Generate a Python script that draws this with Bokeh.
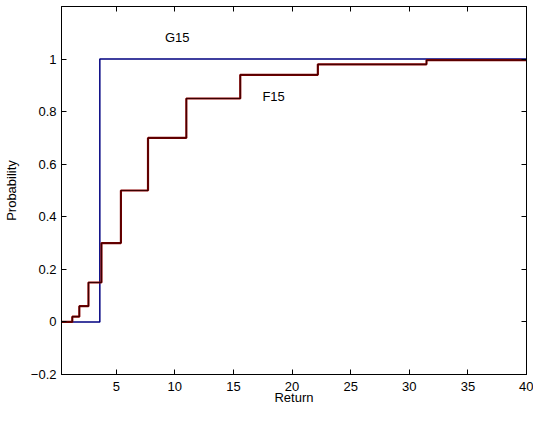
from bokeh.plotting import figure
from bokeh.models import Range1d, LinearAxis, FixedTicker, CustomJSTickFormatter, Label
from bokeh.embed import file_html
from bokeh.resources import INLINE

# ---- data ----
f15_x = [0.33, 1.25, 1.85, 2.63, 3.74, 5.40, 7.71, 10.98, 15.58, 22.2, 31.47, 40.0]
f15_y = [0.0, 0.02, 0.06, 0.15, 0.30, 0.50, 0.70, 0.85, 0.94, 0.98, 0.996, 0.996]
g15_x = [0.33, 3.6, 40.0]
g15_y = [0.0, 1.0, 1.0]
x_ticks = [5, 10, 15, 20, 25, 30, 35, 40]
y_ticks = [-0.2, 0.0, 0.2, 0.4, 0.6, 0.8, 1.0]
x_label = "Return"
y_label = "Probability"
x_lim = (0.33, 40.0)
y_lim = (-0.2, 1.2)

FONT = "Liberation Sans"
FS = "13px"

p = figure(width=533, height=407, output_backend="svg", toolbar_location=None,
           x_range=Range1d(*x_lim), y_range=Range1d(*y_lim),
           min_border_left=54, min_border_right=7, min_border_top=6, min_border_bottom=0)
p.xgrid.visible = False
p.ygrid.visible = False
p.outline_line_color = "black"
p.background_fill_color = "white"
p.border_fill_color = "white"

fmt = CustomJSTickFormatter(code="""
const v = Math.round(tick*10)/10;
return v.toString().replace('-', '\u2212');
""")
blank = CustomJSTickFormatter(code="return '';")

def base_style(ax):
    ax.axis_line_color = "black"
    ax.axis_line_width = 1
    ax.major_tick_line_color = "black"
    ax.major_tick_in = 5
    ax.major_tick_out = 0
    ax.minor_tick_in = 0
    ax.minor_tick_out = 0
    ax.minor_tick_line_color = None

for ax in (p.xaxis[0], p.yaxis[0]):
    base_style(ax)
    ax.major_label_text_font = FONT
    ax.major_label_text_font_size = FS
    ax.major_label_text_color = "black"
    ax.axis_label_text_font = FONT
    ax.axis_label_text_font_size = FS
    ax.axis_label_text_font_style = "normal"
    ax.axis_label_text_color = "black"
    ax.formatter = fmt

xa = p.xaxis[0]
ya = p.yaxis[0]
xa.ticker = FixedTicker(ticks=x_ticks)
ya.ticker = FixedTicker(ticks=y_ticks)
xa.axis_label = x_label
ya.axis_label = y_label
xa.major_label_standoff = 7
xa.axis_label_standoff = -4
ya.major_label_standoff = 5
ya.axis_label_standoff = 9

top = LinearAxis(ticker=FixedTicker(ticks=x_ticks), formatter=blank)
right = LinearAxis(ticker=FixedTicker(ticks=y_ticks), formatter=blank)
for ax in (top, right):
    base_style(ax)
    ax.major_label_standoff = 0
p.add_layout(top, "above")
p.add_layout(right, "right")

p.step(g15_x, g15_y, mode="after", line_color="#000080", line_width=1.5)
p.step(f15_x, f15_y, mode="after", line_color="#8B0000", line_width=2.2)
p.step(f15_x, f15_y, mode="after", line_color="black", line_width=0.7, line_alpha=0.85)

p.add_layout(Label(x=9.15, y=1.081, text="G15", text_font=FONT, text_font_size=FS,
                   text_baseline="middle", text_align="left", text_color="black"))
p.add_layout(Label(x=17.47, y=0.858, text="F15", text_font=FONT, text_font_size=FS,
                   text_baseline="middle", text_align="left", text_color="black"))

open("out.html", "w").write(file_html(p, INLINE))
